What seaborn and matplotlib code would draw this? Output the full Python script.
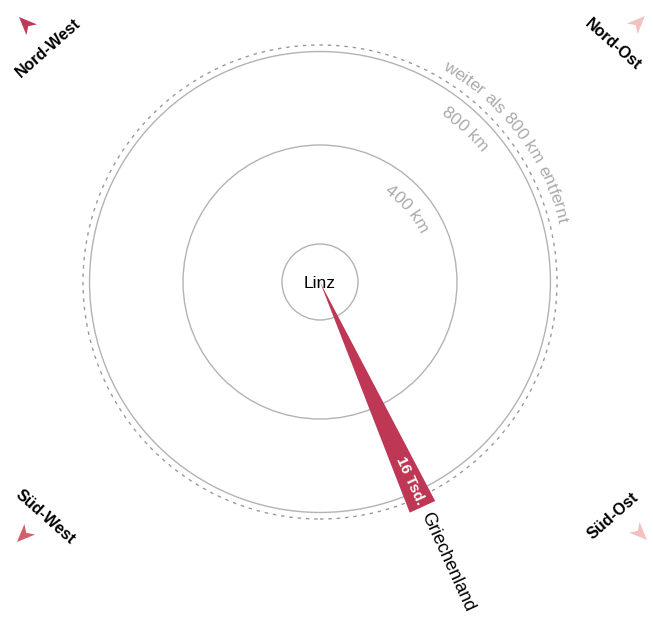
import numpy as np
import pandas as pd
import matplotlib
matplotlib.use("Agg")
import matplotlib.pyplot as plt
from matplotlib.patches import Circle, Polygon
from matplotlib.font_manager import FontProperties
import seaborn as sns

# --- data -------------------------------------------------------------
destinations = ["Griechenland"]
bearings_deg = [155.5]          # direction from Linz, clockwise from north
distance_km = [1280]
travellers_tsd = [16]

ring_km = [400, 800]
ring_labels = ["400 km", "800 km"]
far_label = "weiter als 800 km entfernt"

compass_names = ["Nord-West", "Nord-Ost", "Süd-West", "Süd-Ost"]
compass_colors = ["#be3a56", "#f2c2c2", "#d35f6e", "#f2c2c2"]

# --- layout (1 data unit = 1 pixel, Linz at origin) ---------------------
W, H = 653, 619
CX, CY = 320, 282
INNER_PX = 38          # radius of the Linz circle
OFFSET_PX = 43.5
PX_PER_KM = 0.2337
FAR_KM = 871           # where everything beyond 800 km is placed
GRAY = "#b3b3b3"
TEXT_GRAY = "#ababab"


def km_to_px(km):
    return OFFSET_PX + PX_PER_KM * min(km, FAR_KM)


def pol(r, bearing):
    b = np.deg2rad(bearing)
    return r * np.sin(b), r * np.cos(b)


sns.set_theme(style="white")
plt.rcParams["font.family"] = ["Liberation Sans", "DejaVu Sans"]

fig = plt.figure(figsize=(W / 100, H / 100), dpi=100)
ax = fig.add_axes([0, 0, 1, 1])
ax.set_xlim(-CX, W - CX)
ax.set_ylim(-(H - CY), CY)
ax.set_aspect("equal")
ax.axis("off")

# rings
ax.add_patch(Circle((0, 0), INNER_PX, fill=False, ec=GRAY, lw=1.0))
for km in ring_km:
    ax.add_patch(Circle((0, 0), km_to_px(km), fill=False, ec=GRAY, lw=1.0))
ax.add_patch(Circle((0, 0), 237, fill=False, ec="#9a9a9a", lw=1.0,
                    ls=(0, (2.5, 3.5))))

renderer = fig.canvas.get_renderer()


def text_on_arc(txt, r_base, center_bearing, size, color):
    prop = FontProperties(family=["Liberation Sans", "DejaVu Sans"], size=size)
    widths = [renderer.get_text_width_height_descent(txt[:i], prop, ismath=False)[0]
              if i > 0 else 0.0 for i in range(len(txt) + 1)]
    total = widths[-1]
    for i, ch in enumerate(txt):
        s = (widths[i] + widths[i + 1]) / 2 - total / 2
        phi = center_bearing + np.rad2deg(s / r_base)
        x, y = pol(r_base, phi)
        ax.text(x, y, ch, fontproperties=prop, color=color, ha="center",
                va="baseline", rotation=-phi, rotation_mode="anchor")


text_on_arc(ring_labels[0], 110, 50, 12.5, TEXT_GRAY)
text_on_arc(ring_labels[1], 206, 43.5, 12.5, TEXT_GRAY)
text_on_arc(far_label, 245, 53, 12.5, TEXT_GRAY)

# destination wedges
df = pd.DataFrame({"land": destinations, "bearing": bearings_deg,
                   "km": distance_km, "tsd": travellers_tsd})
for _, row in df.iterrows():
    r_end = km_to_px(row.km)
    half_w = 0.875 * row.tsd
    bx, by = pol(r_end, row.bearing)
    px, py = pol(half_w, row.bearing + 90)
    ax.add_patch(Polygon([(0, 0), (bx + px, by + py), (bx - px, by - py)],
                         closed=True, fc="#be3755", ec="none", zorder=2))
    rot = 90 - row.bearing
    tx, ty = pol(r_end - 29, row.bearing)
    ax.text(tx, ty, f"{row.tsd} Tsd.", color="white", fontsize=11,
            fontweight="bold", ha="center", va="center", rotation=rot,
            rotation_mode="anchor", zorder=3)
    lx, ly = pol(r_end + 7, row.bearing)
    ax.text(lx, ly, row.land, color="black", fontsize=13, ha="left",
            va="center", rotation=rot, rotation_mode="anchor", zorder=3)

ax.text(0, -1, "Linz", fontsize=12.5, ha="center", va="center", color="black",
        zorder=4)

# compass corners
tips = [(-301, 265), (325, 266), (-303, -260), (327, -258)]
angles = [135, 45, 225, -45]
label_pos = [(-272, 234), (293, 237), (-275, -235), (293, -234)]
label_rot = [41.4, -41.4, -41.4, 41.4]
arrow_shape = np.array([(0, 0), (-18, 7.5), (-13, 0), (-18, -7.5)])
for name, col, tip, ang, lp, lr in zip(compass_names, compass_colors, tips,
                                       angles, label_pos, label_rot):
    a = np.deg2rad(ang)
    rotm = np.array([[np.cos(a), -np.sin(a)], [np.sin(a), np.cos(a)]])
    pts = arrow_shape @ rotm.T + np.array(tip)
    ax.add_patch(Polygon(pts, closed=True, fc=col, ec="none"))
    ax.text(lp[0], lp[1], name, fontsize=11.5, fontweight="bold", ha="center",
            va="center", rotation=lr, rotation_mode="anchor", color="black")

fig.savefig("out.png", dpi=100)
